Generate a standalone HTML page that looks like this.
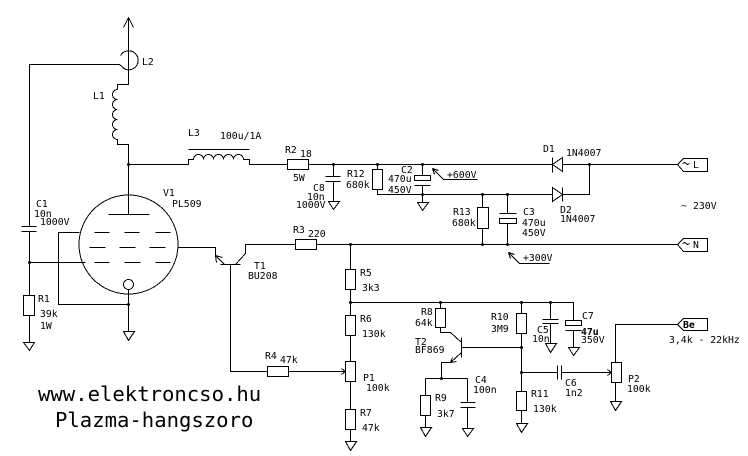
<!DOCTYPE html>
<html><head><meta charset="utf-8"><style>
html,body{margin:0;padding:0;background:#fff}
svg{display:block}
text{font-family:"DejaVu Sans Mono","Liberation Mono",monospace;font-size:9.8px;fill:#000}
.b{font-size:20.6px}
</style></head><body>
<svg width="748" height="456" viewBox="0 0 748 456" xmlns="http://www.w3.org/2000/svg">
<rect width="748" height="456" fill="#fff"/>
<g transform="translate(.5,.5)" fill="none" stroke="#000" stroke-width="1" shape-rendering="crispEdges">
<!-- antenna, L2, L1 -->
<path d="M128 17V84H117V89M123 27L128 17L133 27"/>
<path d="M120 55A9.5 9.500 0 1 1 122 67"/>
<path d="M29 226V64H119L125 69"/>
<path d="M117 89A5 5 0 0 0 117 99A5 5 0 0 0 117 109A5 5 0 0 0 117 119A5 5 0 0 0 117 129A5 5 0 0 0 117 139V144H128V214M108 214H149"/>
<!-- L3 -->
<path d="M128 164H188V159H193A5 5 0 0 1 203 159A5 5 0 0 1 213 159A5 5 0 0 1 223 159A5 5 0 0 1 233 159A5 5 0 0 1 243 159H249V164H287"/>
<path d="M188 149H249"/>
<!-- tube -->
<circle cx="128" cy="244" r="49.5"/>
<circle cx="128" cy="284" r="5"/>
<path d="M94 232H109M124 232H139M155 232H170M89 247H105M119 247H135M149 247H165M94 262H109M124 262H140M155 262H170"/>
<path d="M79 232H58V304H128M128 289V331"/>
<path d="M123 331H134L128 340Z"/>
<!-- C1 R1 -->
<path d="M21 226H36M21 231H36M29 231V295M29 315V342M29 262H85"/>
<rect x="23" y="295" width="11" height="20"/>
<path d="M23 342H34L29 350Z"/>
<!-- T1 -->
<path d="M177 247H215V255L224 264M215 255L216 262M215 255L222 257M220 264H240M235 264L245 253V244H295M230 264V371H267"/>
<!-- main rails -->
<rect x="287" y="159" width="21" height="10"/>
<path d="M308 164H552M562 164H677"/>
<rect x="295" y="239" width="21" height="10"/>
<path d="M316 244H677"/>
<rect x="267" y="366" width="21" height="10"/>
<path d="M288 371H345M341 368L345 371L341 374"/>
<!-- C8 -->
<path d="M333 164V176M325 176H340M325 181H340M333 181V201M328 201H339L333 209Z"/>
<!-- R12 C2 -->
<rect x="372" y="169" width="10" height="20"/>
<path d="M377 164V169M377 189V194H552M422 164V175M414 185H430M422 185V202"/>
<rect x="414" y="175" width="16" height="5"/>
<path d="M417 202H428L422 210Z"/>
<path d="M432 168L443 179H477M432 168L434 174M432 168L438 170"/>
<!-- R13 C3 -->
<rect x="477" y="207" width="11" height="21"/>
<path d="M482 194V207M482 228V244M507 194V213M499 213H516M507 223V244"/>
<rect x="499" y="218" width="17" height="5"/>
<path d="M508 252L519 263H549M508 252L510 258M508 252L514 254"/>
<!-- diodes -->
<path d="M552 157V172M552 164L562 157V171Z"/>
<path d="M552 187V201L562 194ZM562 187V201M562 194H589V164"/>
<!-- connectors -->
<path d="M677 164L683 158H707V171H683Z"/>
<path d="M677 244L683 238H707V251H683Z"/>
<path d="M677 324L683 318H707V330H683Z"/>
<path d="M682 163L684 162L687 164L689 163"/>
<path d="M682 243L684 242L687 244L689 243"/>
<!-- R5 R6 P1 R7 -->
<path d="M350 244V269M350 289V315M350 335V361M350 381V409M350 429V441"/>
<rect x="345" y="269" width="10" height="20"/>
<rect x="345" y="315" width="10" height="20"/>
<rect x="345" y="361" width="10" height="20"/>
<rect x="345" y="409" width="10" height="20"/>
<path d="M345 441H356L350 450Z"/>
<!-- rail 302 -->
<path d="M350 302H573V320M573 330V347M568 347H579L573 355Z"/>
<rect x="565" y="320" width="16" height="5"/>
<path d="M565 330H581"/>
<path d="M550 302V319M542 319H558M542 323H558M550 323V343M545 343H556L550 352Z"/>
<!-- R10 R11 -->
<rect x="516" y="313" width="10" height="20"/>
<path d="M521 302V313M521 333V391M521 410V423M516 423H527L521 432Z"/>
<rect x="516" y="391" width="10" height="19"/>
<!-- T2 R8 -->
<rect x="435" y="308" width="10" height="19"/>
<path d="M440 302V308M440 327V332H450L461 342M461 337V357M461 347H521M461 352L450 362H441V378M450 362L452 357M450 362L456 361"/>
<path d="M425 378H467M425 378V395M425 415V427M467 378V402M460 402H475M460 407H475M467 407V428"/>
<rect x="420" y="395" width="10" height="20"/>
<path d="M420 427H431L425 436Z"/>
<path d="M462 428H473L467 436Z"/>
<!-- C6 P2 -->
<path d="M521 372H557M557 365V379M561 365V379M561 372H611M607 369L611 372L607 375"/>
<rect x="611" y="362" width="10" height="20"/>
<path d="M615 362V324H677M615 382V401M610 401H621L615 410Z"/>
</g>
<!-- dots -->
<g fill="#000">
<circle cx="128.500" cy="164.500" r="1.500"/><circle cx="128.500" cy="304.500" r="1.500"/><circle cx="29.500" cy="262.500" r="1.500"/>
<circle cx="333.500" cy="164.500" r="1.500"/><circle cx="377.500" cy="164.500" r="1.500"/><circle cx="422.500" cy="164.500" r="1.500"/>
<circle cx="422.500" cy="194.500" r="1.500"/><circle cx="482.500" cy="194.500" r="1.500"/><circle cx="482.500" cy="244.500" r="1.500"/>
<circle cx="507.500" cy="194.500" r="1.500"/><circle cx="507.500" cy="244.500" r="1.500"/><circle cx="589.500" cy="164.500" r="1.500"/>
<circle cx="350.500" cy="244.500" r="1.500"/><circle cx="350.500" cy="302.500" r="1.500"/><circle cx="440.500" cy="302.500" r="1.500"/>
<circle cx="521.500" cy="302.500" r="1.500"/><circle cx="550.500" cy="302.500" r="1.500"/><circle cx="521.500" cy="347.500" r="1.500"/>
<circle cx="521.500" cy="372.500" r="1.500"/><circle cx="441.500" cy="378.500" r="1.500"/>
</g>
<text x="142" y="65">L2</text>
<text x="93" y="99">L1</text>
<text x="188" y="136">L3</text>
<text x="220" y="139">100u/1A</text>
<text x="163" y="196">V1</text>
<text x="172" y="207">PL509</text>
<text x="36" y="207">C1</text>
<text x="34" y="217">10n</text>
<text x="40" y="225">1000V</text>
<text x="38" y="302">R1</text>
<text x="40" y="317">39k</text>
<text x="40" y="329">1W</text>
<text x="254" y="269">T1</text>
<text x="248" y="279">BU208</text>
<text x="285" y="153">R2</text>
<text x="300" y="157">18</text>
<text x="293" y="181">5W</text>
<text x="313" y="191">C8</text>
<text x="307" y="200">10n</text>
<text x="296" y="208">1000V</text>
<text x="347" y="177">R12</text>
<text x="346" y="188">680k</text>
<text x="401" y="173">C2</text>
<text x="388" y="182">470u</text>
<text x="388" y="193">450V</text>
<text x="447" y="178">+600V</text>
<text x="453" y="215">R13</text>
<text x="452" y="226">680k</text>
<text x="293" y="233">R3</text>
<text x="308" y="237">220</text>
<text x="360" y="276">R5</text>
<text x="362" y="291">3k3</text>
<text x="543" y="152">D1</text>
<text x="566" y="156">1N4007</text>
<text x="560" y="213">D2</text>
<text x="560" y="222">1N4007</text>
<text x="523" y="215">C3</text>
<text x="522" y="226">470u</text>
<text x="522" y="236">450V</text>
<text x="681" y="209">~</text>
<text x="693" y="209">230V</text>
<text x="523" y="261">+300V</text>
<text x="693" y="168">L</text>
<text x="693" y="248">N</text>
<text x="360" y="322">R6</text>
<text x="362" y="337">130k</text>
<text x="265" y="359">R4</text>
<text x="280" y="363">47k</text>
<text x="363" y="381">P1</text>
<text x="366" y="391">100k</text>
<text x="360" y="416">R7</text>
<text x="362" y="431">47k</text>
<text x="421" y="315">R8</text>
<text x="415" y="326">64k</text>
<text x="415" y="345">T2</text>
<text x="415" y="353">BF869</text>
<text x="435" y="401">R9</text>
<text x="437" y="417">3k7</text>
<text x="475" y="383">C4</text>
<text x="473" y="393">100n</text>
<text x="491" y="320">R10</text>
<text x="491" y="332">3M9</text>
<text x="537" y="333">C5</text>
<text x="532" y="342">10n</text>
<text x="582" y="319">C7</text>
<text x="581" y="335" font-weight="bold">47u</text>
<text x="581" y="343">350V</text>
<text x="565" y="386">C6</text>
<text x="565" y="396">1n2</text>
<text x="531" y="397">R11</text>
<text x="533" y="412">130k</text>
<text x="628" y="382">P2</text>
<text x="627" y="392">100k</text>
<text x="683" y="328" font-weight="bold">Be</text>
<text x="669" y="343">3,4k - 22kHz</text>
<text class="b" x="38" y="401">www.elektroncso.hu</text>
<text class="b" x="55" y="427">Plazma-hangszoro</text>
</svg>
</body></html>
